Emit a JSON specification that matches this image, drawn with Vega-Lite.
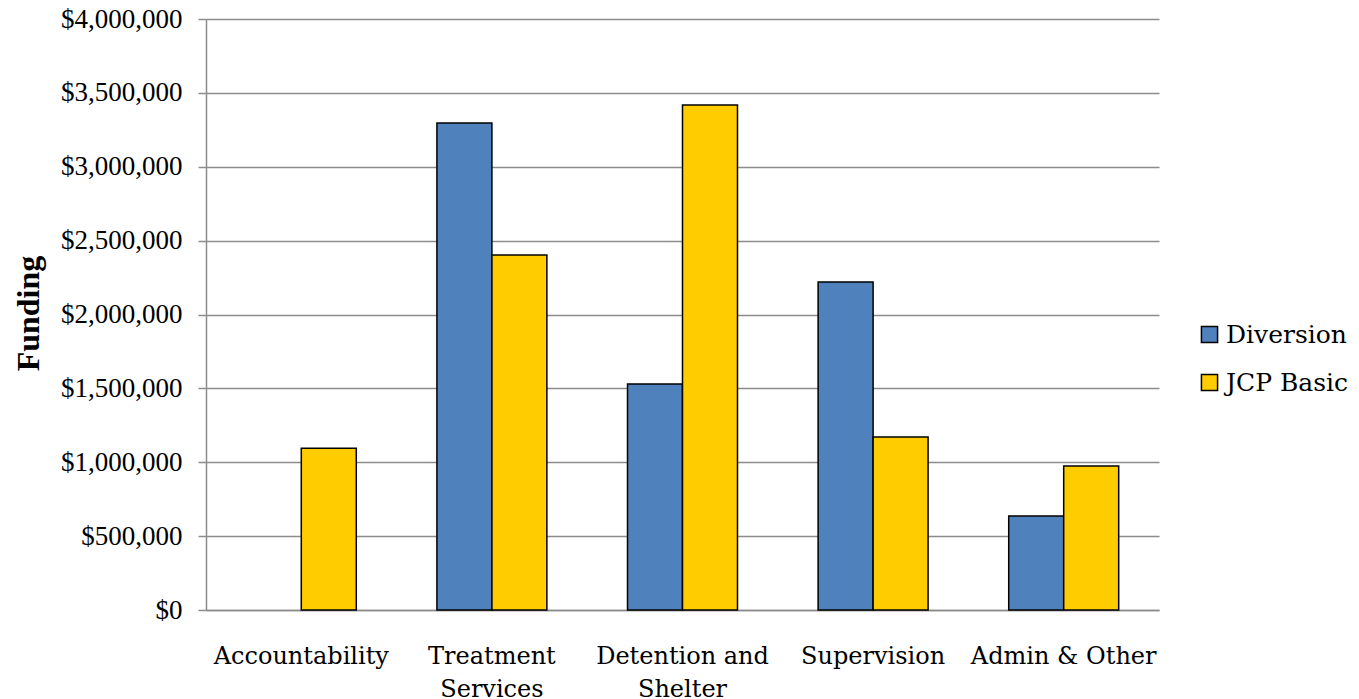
{
  "$schema": "https://vega.github.io/schema/vega-lite/v6.json",
  "autosize": "none",
  "width": 953,
  "height": 591,
  "padding": {"left": 206, "top": 19, "right": 200, "bottom": 89},
  "background": "white",
  "config": {
    "view": {"stroke": null},
    "font": "DejaVu Serif"
  },
  "data": {
    "values": [
      {"category": "Accountability", "source": "Diversion", "funding": 0},
      {"category": "Accountability", "source": "JCP Basic", "funding": 1095000},
      {"category": "Treatment Services", "source": "Diversion", "funding": 3296000},
      {"category": "Treatment Services", "source": "JCP Basic", "funding": 2403000},
      {"category": "Detention and Shelter", "source": "Diversion", "funding": 1530000},
      {"category": "Detention and Shelter", "source": "JCP Basic", "funding": 3418000},
      {"category": "Supervision", "source": "Diversion", "funding": 2220000},
      {"category": "Supervision", "source": "JCP Basic", "funding": 1171000},
      {"category": "Admin & Other", "source": "Diversion", "funding": 636000},
      {"category": "Admin & Other", "source": "JCP Basic", "funding": 975000}
    ]
  },
  "transform": [{"filter": "datum.funding > 0"}],
  "mark": {"type": "bar", "stroke": "black", "strokeWidth": 1.5},
  "encoding": {
    "x": {
      "field": "category",
      "type": "nominal",
      "sort": ["Accountability", "Treatment Services", "Detention and Shelter", "Supervision", "Admin & Other"],
      "scale": {"paddingInner": 0.423, "paddingOuter": 0.2115},
      "axis": {
        "title": null,
        "labelAngle": 0,
        "labelFont": "DejaVu Serif",
        "labelFontSize": 24,
        "labelColor": "black",
        "labelPadding": 46,
        "labelLineHeight": 33,
        "labelBaseline": "middle",
        "labelLimit": 300,
        "ticks": false,
        "domainColor": "#8c8c8c",
        "domainWidth": 1.5,
        "labelExpr": "datum.value == 'Treatment Services' ? ['Treatment', 'Services'] : datum.value == 'Detention and Shelter' ? ['Detention and', 'Shelter'] : datum.value"
      }
    },
    "xOffset": {
      "field": "source",
      "type": "nominal",
      "scale": {"domain": ["Diversion", "JCP Basic"], "paddingInner": 0, "paddingOuter": 0}
    },
    "y": {
      "field": "funding",
      "type": "quantitative",
      "scale": {"domain": [0, 4000000], "nice": false},
      "axis": {
        "title": "Funding",
        "titleFont": "Liberation Serif",
        "titleFontSize": 32,
        "titleFontWeight": "bold",
        "titleColor": "black",
        "titleX": -178,
        "titleY": 294,
        "titleAngle": -90,
        "titleAlign": "center",
        "titleBaseline": "middle",
        "values": [0, 500000, 1000000, 1500000, 2000000, 2500000, 3000000, 3500000, 4000000],
        "format": "$,.0f",
        "labelFont": "Liberation Serif",
        "labelFontSize": 27,
        "labelColor": "black",
        "labelPadding": 16,
        "tickSize": 8,
        "tickColor": "#8c8c8c",
        "tickWidth": 1.5,
        "domainColor": "#8c8c8c",
        "domainWidth": 1.5,
        "grid": true,
        "gridColor": "#8c8c8c",
        "gridWidth": 1.5
      }
    },
    "color": {
      "field": "source",
      "type": "nominal",
      "scale": {"domain": ["Diversion", "JCP Basic"], "range": ["#4F81BD", "#FFCC00"]},
      "legend": {
        "title": null,
        "orient": "none",
        "legendX": 991,
        "legendY": 303,
        "symbolType": "square",
        "symbolSize": 260,
        "symbolStrokeColor": "black",
        "symbolStrokeWidth": 1.5,
        "labelFont": "DejaVu Serif",
        "labelFontSize": 25,
        "labelColor": "black",
        "labelOffset": 4,
        "rowPadding": 22,
        "labelLimit": 300
      }
    }
  }
}
